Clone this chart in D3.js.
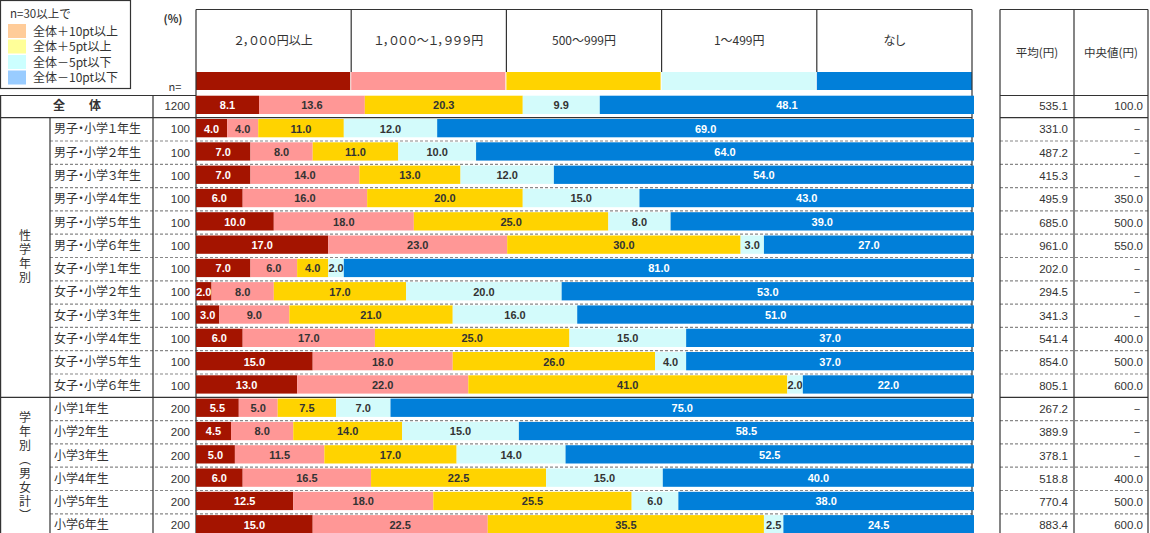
<!DOCTYPE html>
<html>
<head>
<meta charset="utf-8">
<script src="https://cdn.jsdelivr.net/npm/d3@7"></script>
<style>
  body { margin: 0; background: #fff; }
  svg text { font-family: "Noto Sans CJK JP", sans-serif; fill: #333; }
  .num { font-family: "Liberation Sans", Arial, sans-serif; }
  .palt { font-feature-settings: "palt"; }
  .vert { writing-mode: vertical-rl; text-orientation: upright; }
</style>
</head>
<body>
<div class="chart"></div>
<script>
// categories (header) and colours
const categories = ["２，０００円以上", "１，０００～１，９９９円", "500～999円", "1～499円", "なし"];
const catColors = ["#a41400", "#ff9796", "#ffd300", "#d3fbfb", "#017fd9"];

// row labels and n
const rowLabels = ["全　　体",
  "男子・小学１年生", "男子・小学２年生", "男子・小学３年生", "男子・小学４年生", "男子・小学５年生", "男子・小学６年生",
  "女子・小学１年生", "女子・小学２年生", "女子・小学３年生", "女子・小学４年生", "女子・小学５年生", "女子・小学６年生",
  "小学1年生", "小学2年生", "小学3年生", "小学4年生", "小学5年生", "小学6年生"];
const nValues = [1200, 100, 100, 100, 100, 100, 100, 100, 100, 100, 100, 100, 100, 200, 200, 200, 200, 200, 200];

// series values (%)
const over2000 = [8.1, 4.0, 7.0, 7.0, 6.0, 10.0, 17.0, 7.0, 2.0, 3.0, 6.0, 15.0, 13.0, 5.5, 4.5, 5.0, 6.0, 12.5, 15.0];
const from1000 = [13.6, 4.0, 8.0, 14.0, 16.0, 18.0, 23.0, 6.0, 8.0, 9.0, 17.0, 18.0, 22.0, 5.0, 8.0, 11.5, 16.5, 18.0, 22.5];
const from500 = [20.3, 11.0, 11.0, 13.0, 20.0, 25.0, 30.0, 4.0, 17.0, 21.0, 25.0, 26.0, 41.0, 7.5, 14.0, 17.0, 22.5, 25.5, 35.5];
const from1 = [9.9, 12.0, 10.0, 12.0, 15.0, 8.0, 3.0, 2.0, 20.0, 16.0, 15.0, 4.0, 2.0, 7.0, 15.0, 14.0, 15.0, 6.0, 2.5];
const none = [48.1, 69.0, 64.0, 54.0, 43.0, 39.0, 27.0, 81.0, 53.0, 51.0, 37.0, 37.0, 22.0, 75.0, 58.5, 52.5, 40.0, 38.0, 24.5];

// right table
const meanYen = ["535.1", "331.0", "487.2", "415.3", "495.9", "685.0", "961.0", "202.0", "294.5", "341.3", "541.4", "854.0", "805.1", "267.2", "389.9", "378.1", "518.8", "770.4", "883.4"];
const medianYen = ["100.0", "－", "－", "－", "350.0", "500.0", "550.0", "－", "－", "－", "400.0", "500.0", "600.0", "－", "－", "－", "400.0", "500.0", "600.0"];

// groups
const groups = [
  {label: "性学年別", from: 1, to: 12},
  {label: "学年別（男女計）", from: 13, to: 18}
];

// legend
const legendTitle = "n=30以上で";
const legendItems = ["全体＋10pt以上", "全体＋5pt以上", "全体－5pt以下", "全体－10pt以下"];
const legendColors = ["#ffcc99", "#ffff99", "#ccffff", "#99ccff"];

const W = 1150, H = 533;
const svg = d3.select(".chart").append("svg").attr("width", W).attr("height", H);

const series = [over2000, from1000, from500, from1, none];
const table = rowLabels.map((r, i) => {
  const o = {row: i};
  categories.forEach((c, k) => { o[c] = series[k][i]; });
  return o;
});
const stacked = d3.stack().keys(categories)(table);

const x = d3.scaleLinear().domain([0, 100]).range([196, 974]);
const y = d3.scaleBand().domain(d3.range(rowLabels.length)).range([94.4, 94.4 + 23.3 * 19]);
const hx = d3.scaleBand().domain(categories).range([196, 972]);

const dark = "#333";
function line(x1, y1, x2, y2, dashed) {
  svg.append("line").attr("x1", x1).attr("y1", y1).attr("x2", x2).attr("y2", y2)
    .attr("stroke", dashed ? "#888" : dark).attr("stroke-width", 1.2)
    .attr("stroke-dasharray", dashed ? "3,2" : null);
}

// legend box
svg.append("rect").attr("x", 0.5).attr("y", 0.5).attr("width", 130).attr("height", 88)
  .attr("fill", "none").attr("stroke", dark).attr("stroke-width", 1.2);
svg.append("text").attr("x", 10).attr("y", 18).attr("font-size", 11.5).text(legendTitle);
legendItems.forEach((t, i) => {
  svg.append("rect").attr("x", 8).attr("y", 24 + i * 15.5).attr("width", 18).attr("height", 14).attr("fill", legendColors[i]);
  svg.append("text").attr("x", 33).attr("y", 35.5 + i * 15.5).attr("font-size", 12).text(t);
});

svg.append("text").attr("x", 173).attr("y", 23).attr("font-size", 11).attr("font-weight", "bold")
  .attr("text-anchor", "middle").text("(%)");
svg.append("text").attr("x", 175).attr("y", 91).attr("font-size", 11).attr("text-anchor", "middle").text("n=");

// header
line(196, 9.5, 972, 9.5);
categories.forEach((c, k) => {
  svg.append("text").attr("class", "palt").attr("x", hx(c) + hx.bandwidth() / 2).attr("y", 45)
    .attr("text-anchor", "middle").attr("font-size", 12).text(c);
  if (k > 0) line(hx(c), 9.5, hx(c), 72);
  svg.append("rect").attr("x", hx(c)).attr("y", 72).attr("width", hx.bandwidth() - (k < 4 ? 1 : 0)).attr("height", 18)
    .attr("fill", catColors[k]);
});

// grid lines of rows
const yTop = i => y(i);
const bottom = y.range()[1];
line(0, 95.5, 196, 95.5);
for (let i = 1; i < rowLabels.length; i++) {
  const yy = yTop(i);
  const isSolid = (i === 1 || i === 13);
  if (isSolid) {
    line(0, yy, 972, yy);
    line(1000, yy, 1148, yy);
  } else {
    line(50, yy, 972, yy, true);
    line(1000, yy, 1148, yy, true);
  }
}
// verticals
line(0.6, 95.5, 0.6, bottom);
line(50, yTop(1), 50, bottom);
line(153, 95.5, 153, bottom);
line(196, 9.5, 196, bottom);
line(972, 9.5, 972, bottom);

// right table
line(1000, 9.5, 1148, 9.5);
line(1000, 95.5, 1148, 95.5);
line(1000, 9.5, 1000, bottom);
line(1074, 9.5, 1074, bottom);
line(1148, 9.5, 1148, bottom);
svg.append("text").attr("x", 1037).attr("y", 57).attr("text-anchor", "middle").attr("font-size", 11.5).text("平均(円)");
svg.append("text").attr("x", 1111).attr("y", 57).attr("text-anchor", "middle").attr("font-size", 11.5).text("中央値(円)");

// group labels (vertical writing)
groups.forEach(g => {
  const cy = (yTop(g.from) + yTop(g.to) + y.bandwidth()) / 2;
  svg.append("text").attr("class", "vert")
    .attr("x", 25).attr("y", cy)
    .attr("text-anchor", "middle")
    .attr("font-size", 12)
    .attr("letter-spacing", 2)
    .text(g.label);
});

// row labels and n
rowLabels.forEach((r, i) => {
  const cy = yTop(i) + y.bandwidth() / 2 + 4;
  if (i === 0) {
    svg.append("text").attr("x", 77).attr("y", cy).attr("text-anchor", "middle")
      .attr("font-size", 12).attr("font-weight", "bold").text(r);
  } else {
    svg.append("text").attr("class", "palt").attr("x", 54).attr("y", cy).attr("font-size", 12).text(r);
  }
  svg.append("text").attr("class", "num").attr("x", 190).attr("y", cy).attr("text-anchor", "end")
    .attr("font-size", 11.5).text(nValues[i]);
  svg.append("text").attr("class", "num").attr("x", 1068).attr("y", cy).attr("text-anchor", "end")
    .attr("font-size", 11.5).text(meanYen[i]);
  svg.append("text").attr("class", "num").attr("x", 1143).attr("y", cy).attr("text-anchor", "end")
    .attr("font-size", 11.5).text(medianYen[i]);
});

// bars
const barG = svg.append("g");
stacked.forEach((s, k) => {
  barG.selectAll(null).data(s).enter().append("rect")
    .attr("x", d => x(d[0]))
    .attr("y", d => yTop(d.data.row) + 1.3)
    .attr("width", d => x(d[1]) - x(d[0]))
    .attr("height", 18.3)
    .attr("fill", catColors[k]);
});
stacked.forEach((s, k) => {
  barG.selectAll(null).data(s).enter().append("text")
    .attr("class", "num")
    .attr("x", d => (x(d[0]) + x(d[1])) / 2)
    .attr("y", d => yTop(d.data.row) + 1.3 + 13.5)
    .attr("text-anchor", "middle")
    .attr("font-size", 11)
    .attr("font-weight", "bold")
    .style("fill", (k === 0 || k === 4) ? "#fff" : "#333")
    .text(d => (d[1] - d[0]).toFixed(1));
});
</script>
</body>
</html>
